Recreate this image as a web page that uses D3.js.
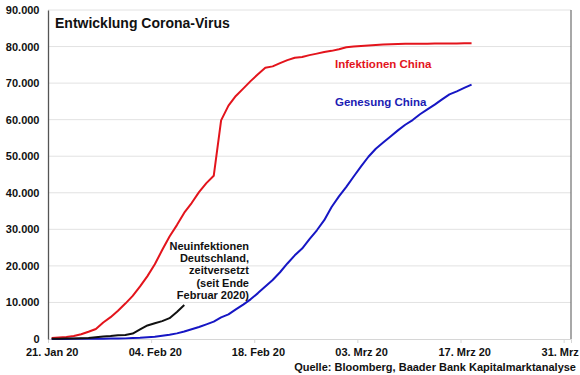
<!DOCTYPE html>
<html>
<head>
<meta charset="utf-8">
<script src="https://cdn.jsdelivr.net/npm/d3@7"></script>
<style>
  body { margin: 0; background: #fff; }
  svg { display: block; }
  text { font-family: "Liberation Sans", Arial, sans-serif; font-weight: bold; }
</style>
</head>
<body>
<svg id="chart" width="580" height="375"></svg>
<script>
// values, one per day starting 21 Jan 2020
const startDate = new Date(2020, 0, 21);

const infektionenChina = [
  300, 440, 571, 830, 1287, 1975, 2744, 4515, 5974, 7711,
  9692, 11791, 14380, 17205, 20438, 24324, 28018, 31161, 34546, 37198,
  40171, 42638, 44653, 59804, 63851, 66492, 68500, 70548, 72436, 74185,
  74576, 75465, 76288, 76936, 77150, 77658, 78064, 78497, 78824, 79251,
  79824, 80026, 80151, 80270, 80409, 80552, 80651, 80695, 80735, 80754,
  80778, 80793, 80813, 80824, 80844, 80860, 80881, 80894
];

const genesungChina = [
  25, 28, 34, 38, 39, 49, 51, 60, 103, 124,
  171, 243, 328, 475, 632, 892, 1153, 1540, 2050, 2649,
  3281, 3996, 4740, 5911, 6723, 8096, 9419, 10844, 12552, 14376,
  16155, 18264, 20659, 22888, 24734, 27323, 29745, 32495, 36117, 39002,
  41625, 44462, 47204, 49856, 52045, 53726, 55404, 57065, 58600, 59897,
  61475, 62793, 64111, 65541, 66911, 67749, 68679, 69601
];

// Germany since end of February, shifted to start on 21 Jan
const neuinfektionenDeutschland = [
  50, 80, 130, 160, 200, 260, 480, 670, 800, 1000,
  1100, 1500, 2600, 3700, 4300, 4900, 5700, 7400, 9300
];

const yTicks = [0, 10000, 20000, 30000, 40000, 50000, 60000, 70000, 80000, 90000];
const xTickDates = [
  new Date(2020, 0, 21), new Date(2020, 1, 4), new Date(2020, 1, 18),
  new Date(2020, 2, 3), new Date(2020, 2, 17), new Date(2020, 2, 31)
];
const xTickLabels = ["21. Jan 20", "04. Feb 20", "18. Feb 20", "03. Mrz 20", "17. Mrz 20", "31. Mrz 20"];

const svg = d3.select("#chart");

const x = d3.scaleTime()
  .domain([startDate, new Date(2020, 3, 1)])
  .range([48, 571]);
const y = d3.scaleLinear().domain([0, 90000]).range([339, 10]);

// excel puts each point in the middle of its day
const dayX = (i) => x(d3.timeHour.offset(d3.timeDay.offset(startDate, i), 12));
const halfDay = x(d3.timeHour.offset(startDate, 12)) - x(startDate);

const de = d3.formatLocale({ decimal: ",", thousands: ".", grouping: [3], currency: ["", " €"] });
const fmt = de.format(",");

// gridlines
svg.append("g")
  .selectAll("line")
  .data(yTicks.filter((d) => d > 0))
  .enter()
  .append("line")
  .attr("x1", 48)
  .attr("x2", 571)
  .attr("y1", (d) => y(d))
  .attr("y2", (d) => y(d))
  .attr("stroke", "#e2e2e2")
  .attr("stroke-width", 1);

// right border
svg.append("line")
  .attr("x1", 571).attr("x2", 571)
  .attr("y1", y(90000)).attr("y2", y(0))
  .attr("stroke", "#6e6e6e").attr("stroke-width", 1.2);

// x axis
const xAxis = svg.append("g")
  .attr("transform", "translate(0," + y(0) + ")")
  .call(
    d3.axisBottom(x)
      .tickValues(xTickDates)
      .tickSize(4)
      .tickPadding(5)
      .tickFormat((d, i) => xTickLabels[i])
  );
xAxis.select(".domain").attr("stroke", "#d6d6d6");
xAxis.selectAll(".tick line").attr("stroke", "#d6d6d6");
xAxis.selectAll(".tick text")
  .attr("x", halfDay)
  .attr("fill", "#111")
  .style("font-size", "11px")
  .style("font-family", '"Liberation Sans", Arial, sans-serif');

// y axis
const yAxis = svg.append("g")
  .attr("transform", "translate(48,0)")
  .call(d3.axisLeft(y).tickValues(yTicks).tickSize(0).tickPadding(8.5).tickFormat(fmt));
yAxis.select(".domain").attr("stroke", "#555").attr("stroke-width", 1.3);
yAxis.selectAll(".tick text")
  .attr("fill", "#111")
  .style("font-size", "11px")
  .style("font-family", '"Liberation Sans", Arial, sans-serif');

// lines
const line = d3.line()
  .x((d, i) => dayX(i))
  .y((d) => y(d));

const series = [
  { values: infektionenChina, color: "#e3141c" },
  { values: genesungChina, color: "#1616c4" },
  { values: neuinfektionenDeutschland, color: "#111111" }
];

svg.append("g")
  .selectAll("path")
  .data(series)
  .enter()
  .append("path")
  .attr("d", (d) => line(d.values))
  .attr("fill", "none")
  .attr("stroke", (d) => d.color)
  .attr("stroke-width", 2)
  .attr("stroke-linejoin", "round");

// title and labels
svg.append("text")
  .attr("x", 55).attr("y", 27.5)
  .style("font-size", "14px")
  .attr("fill", "#111")
  .text("Entwicklung Corona-Virus");

svg.append("text")
  .attr("x", 335).attr("y", 68)
  .style("font-size", "11.5px")
  .attr("fill", "#e3141c")
  .text("Infektionen China");

svg.append("text")
  .attr("x", 335).attr("y", 106)
  .style("font-size", "11.5px")
  .attr("fill", "#1c1cb4")
  .text("Genesung China");

const noteLines = ["Neuinfektionen", "Deutschland,", "zeitversetzt", "(seit Ende", "Februar 2020)"];
svg.append("text")
  .attr("text-anchor", "end")
  .style("font-size", "11px")
  .attr("fill", "#111")
  .selectAll("tspan")
  .data(noteLines)
  .enter()
  .append("tspan")
  .attr("x", 249)
  .attr("y", (d, i) => 249.5 + i * 12.4)
  .text((d) => d);

svg.append("text")
  .attr("x", 576).attr("y", 371)
  .attr("text-anchor", "end")
  .style("font-size", "11px")
  .attr("fill", "#111")
  .text("Quelle: Bloomberg, Baader Bank Kapitalmarktanalyse");
</script>
</body>
</html>
